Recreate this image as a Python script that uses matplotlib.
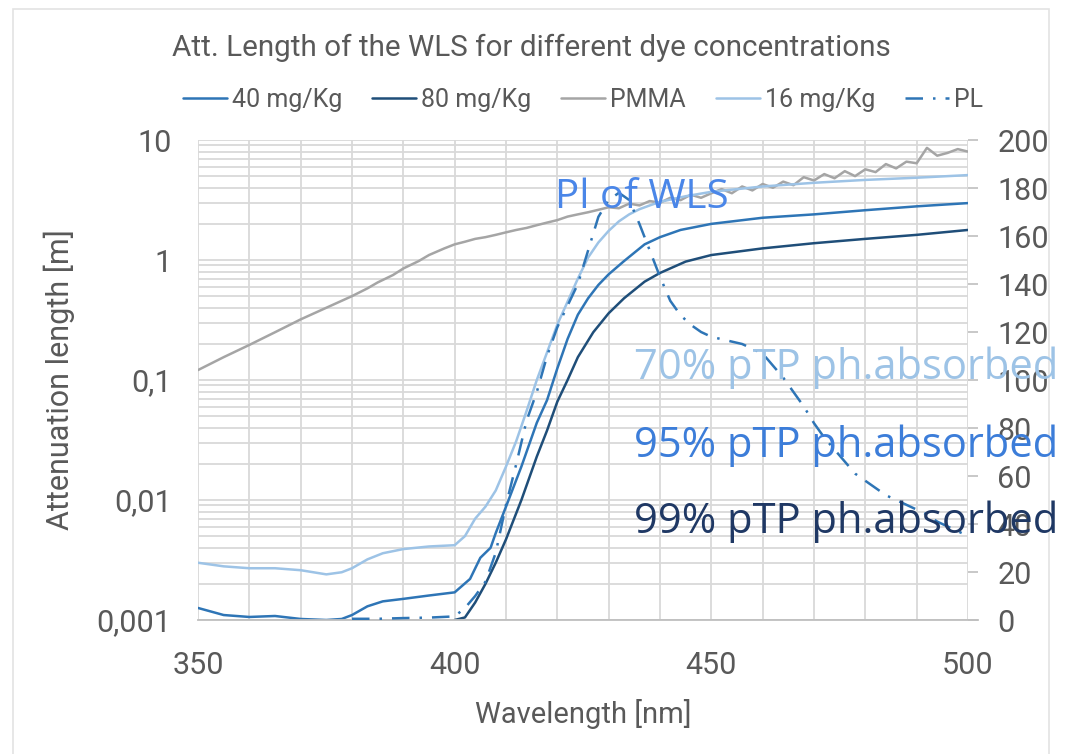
import matplotlib
matplotlib.use("Agg")
import matplotlib.pyplot as plt
import numpy as np
from matplotlib import font_manager
from matplotlib.patches import Rectangle
from matplotlib.ticker import FixedLocator, MultipleLocator, NullFormatter

# -- data -----------------------------------------------------------------
wl_pmma = [350, 355, 360, 365, 370, 375, 380, 383, 385, 388, 390, 393, 395, 398,
           400, 402, 404, 406, 408, 410, 412, 414, 416, 418, 420, 422, 424, 426,
           428, 430, 432, 434, 436, 438, 440, 442, 444, 446, 448, 450, 452, 454,
           456, 458, 460, 462, 464, 466, 468, 470, 472, 474, 476, 478, 480, 482,
           484, 486, 488, 490, 492, 494, 496, 498, 500]
att_pmma = [0.121, 0.155, 0.196, 0.25, 0.32, 0.40, 0.50, 0.58, 0.65, 0.75, 0.85,
            0.98, 1.1, 1.25, 1.35, 1.42, 1.5, 1.55, 1.62, 1.7, 1.78, 1.85, 1.95,
            2.05, 2.15, 2.3, 2.4, 2.5, 2.62, 2.75, 2.7, 2.95, 2.85, 3.1, 3.0, 3.3,
            3.15, 3.5, 3.3, 3.6, 3.9, 3.6, 4.1, 3.8, 4.3, 4.0, 4.5, 4.2, 4.9, 4.6,
            5.2, 4.8, 5.5, 5.0, 5.7, 5.4, 6.3, 5.8, 6.6, 6.4, 8.6, 7.4, 7.8, 8.4, 8.0]

wl_16 = [350, 355, 360, 365, 370, 375, 378, 380, 383, 386, 390, 395, 400, 402,
         404, 406, 408, 410, 412, 414, 416, 418, 420, 422, 424, 426, 428, 430,
         432, 434, 436, 438, 440, 445, 450, 460, 470, 480, 490, 500]
att_16 = [0.0030, 0.0028, 0.0027, 0.0027, 0.0026, 0.0024, 0.0025, 0.0027, 0.0032,
          0.0036, 0.0039, 0.0041, 0.0042, 0.0050, 0.0070, 0.0088, 0.012, 0.019,
          0.031, 0.055, 0.10, 0.17, 0.29, 0.45, 0.70, 1.05, 1.4, 1.75, 2.1, 2.4,
          2.65, 2.85, 3.05, 3.4, 3.7, 4.1, 4.4, 4.65, 4.85, 5.1]

wl_40 = [350, 355, 360, 365, 370, 375, 378, 380, 383, 386, 390, 395, 400, 403,
         405, 407, 408, 410, 413, 416, 418, 420, 422, 424, 426, 428, 430, 433,
         437, 440, 444, 450, 460, 470, 480, 490, 500]
att_40 = [0.00126, 0.0011, 0.00106, 0.00108, 0.00102, 0.001, 0.00102, 0.0011,
          0.0013, 0.00143, 0.0015, 0.0016, 0.0017, 0.0022, 0.0033, 0.0040, 0.0053,
          0.0088, 0.019, 0.044, 0.068, 0.125, 0.22, 0.35, 0.48, 0.62, 0.76, 0.98,
          1.35, 1.55, 1.78, 2.0, 2.25, 2.4, 2.6, 2.8, 2.98]

wl_80 = [400, 402, 404, 406, 408, 410, 413, 416, 418, 420, 422, 424, 427, 430,
         433, 437, 440, 445, 450, 460, 470, 480, 490, 500]
att_80 = [0.001, 0.00105, 0.0014, 0.002, 0.003, 0.0047, 0.010, 0.023, 0.038,
          0.066, 0.10, 0.155, 0.25, 0.36, 0.48, 0.66, 0.78, 0.97, 1.1, 1.25,
          1.38, 1.5, 1.62, 1.78]

wl_pl = [380, 385, 390, 395, 400, 402, 404, 406, 408, 410, 412, 414, 416, 418,
         420, 422, 424, 426, 428, 430, 432, 434, 436, 438, 440, 442, 444, 446,
         448, 450, 452, 454, 456, 458, 460, 462, 464, 466, 468, 470, 472, 474,
         476, 478, 480, 482, 484, 486, 488, 490, 492, 494, 496, 498, 500]
pl = [0.5, 0.5, 0.8, 1, 1.5, 5, 10, 16, 28, 48, 65, 83, 95, 110, 122, 131, 140,
      154, 168, 175, 178, 175, 165, 154, 143, 133, 127, 123, 120, 118, 117, 116,
      115, 113, 111, 106, 101, 95, 89, 82, 76, 71, 66, 61, 58, 55, 52, 50, 48,
      46, 44, 41, 39, 37, 35]

y_ticks = [0.001, 0.01, 0.1, 1, 10]
y_tick_labels = ["0,001", "0,01", "0,1", "1", "10"]
x_ticks = [350, 400, 450, 500]

# -- fonts -------------------------------------------------------------------
names = {f.name for f in font_manager.fontManager.ttflist}
ui_font = "Liberation Sans Narrow" if "Liberation Sans Narrow" in names else "Roboto"
note_font = "Open Sans"
GREY = "#595959"
GRID = "#D9D9D9"

W, H = 1068, 754
fig = plt.figure(figsize=(W / 100, H / 100), dpi=100)


def px(x, y):
    return x / W, 1 - y / H


# chart area border
fig.patches.append(Rectangle(px(13, 1000), (1049 - 13) / W, (1000 - 9) / H,
                             transform=fig.transFigure, fill=False,
                             edgecolor="#E3E3E3", linewidth=1.2))

l, b = px(198, 620)
r, t = px(968, 140)
ax = fig.add_axes([l, b, r - l, t - b])
ax2 = ax.twinx()

ax.set_yscale("log")
ax.set_ylim(0.001, 10)
ax.set_xlim(350, 500)
ax2.set_ylim(0, 200)

line_kw = dict(linewidth=1.8, solid_capstyle="round", solid_joinstyle="round")
ax.plot(wl_40, att_40, color="#2E75B6", label="40 mg/Kg", **line_kw)
ax.plot(wl_80, att_80, color="#1F4E79", label="80 mg/Kg", **line_kw)
ax.plot(wl_pmma, att_pmma, color="#A5A5A5", label="PMMA", **line_kw)
ax.plot(wl_16, att_16, color="#9DC3E6", label="16 mg/Kg", **line_kw)
ax2.plot(wl_pl, pl, color="#2E75B6", linewidth=1.8, dashes=(7, 4, 1, 4), label="PL")

# grid
ax.yaxis.set_major_locator(FixedLocator(y_ticks))
ax.yaxis.set_minor_locator(matplotlib.ticker.LogLocator(base=10, subs=np.arange(2, 10)))
ax.yaxis.set_minor_formatter(NullFormatter())
ax.set_yticklabels(y_tick_labels)
ax.xaxis.set_major_locator(FixedLocator(x_ticks))
ax.xaxis.set_minor_locator(MultipleLocator(10))
ax.grid(which="both", color=GRID, linewidth=1.3)
ax.set_axisbelow(True)

for a in (ax, ax2):
    for s in a.spines.values():
        s.set_visible(False)
ax.spines["bottom"].set_visible(True)
ax.spines["bottom"].set_color("#BFBFBF")
ax.spines["bottom"].set_linewidth(1.3)
ax.spines["bottom"].set_bounds(350, 502)

ax.tick_params(axis="both", which="both", length=0, colors=GREY, labelsize=22)
ax.tick_params(axis="x", pad=22)
ax.tick_params(axis="y", pad=19)
for lab in ax.get_xticklabels() + ax.get_yticklabels():
    lab.set_family(ui_font)

ax2.yaxis.set_major_locator(MultipleLocator(20))
ax2.tick_params(axis="y", length=7, width=1.2, color="#BFBFBF", colors=GREY,
                labelsize=22, pad=14)
ax2.tick_params(axis="y", color="#BFBFBF")
for lab in ax2.get_yticklabels():
    lab.set_family(ui_font)

ax.set_xlabel("Wavelength [nm]", fontsize=21, color=GREY, family=ui_font, labelpad=14)
ax.set_ylabel("Attenuation length [m]", fontsize=22, color=GREY, family=ui_font, labelpad=16)

fig.text(*px(531, 56), "Att. Length of the WLS for different dye concentrations",
         ha="center", va="baseline", fontsize=21.3, color=GREY, family=ui_font)

h1, l1 = ax.get_legend_handles_labels()
h2, l2 = ax2.get_legend_handles_labels()
leg = fig.legend(h1 + h2, l1 + l2, loc="center", bbox_to_anchor=px(583, 100),
                 ncol=5, frameon=False, handlelength=1.75,
                 handletextpad=0.2, columnspacing=1.2,
                 prop={"family": ui_font, "size": 18})
for txt in leg.get_texts():
    txt.set_color(GREY)

# annotations
fig.text(*px(555, 208), "Pl of WLS", fontsize=29, color="#4A86E8",
         family=note_font, va="baseline")
fig.text(*px(634, 379), "70% pTP ph.absorbed", fontsize=30, color="#9DC3E6",
         family=note_font, va="baseline")
fig.text(*px(634, 457), "95% pTP ph.absorbed", fontsize=30, color="#3C7DD9",
         family=note_font, va="baseline")
fig.text(*px(634, 533), "99% pTP ph.absorbed", fontsize=30, color="#1F3864",
         family=note_font, va="baseline")

fig.savefig("out.png", dpi=100)
